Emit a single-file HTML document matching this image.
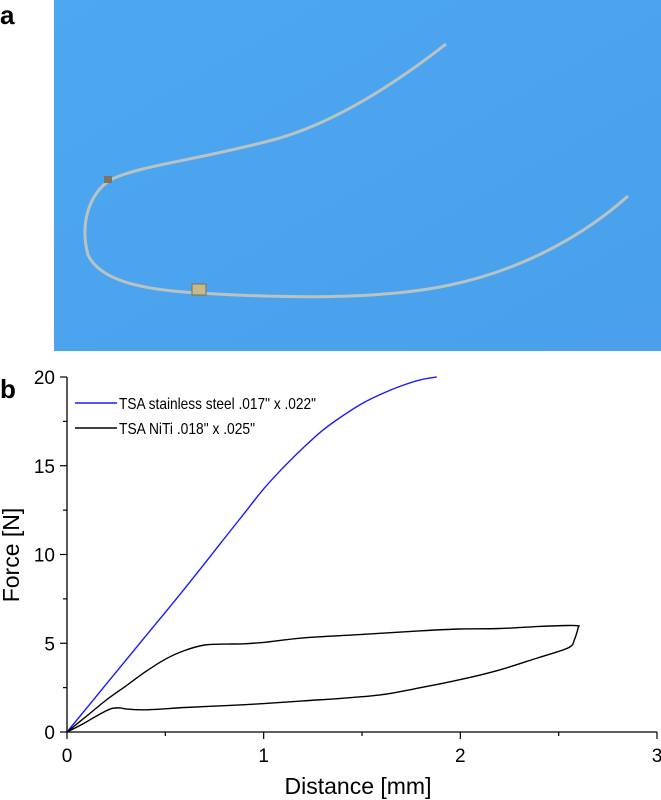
<!DOCTYPE html>
<html><head><meta charset="utf-8"><style>
html,body{margin:0;padding:0;background:#fff;width:661px;height:800px;overflow:hidden}
svg{display:block;font-family:"Liberation Sans",Arial,sans-serif}
</style></head><body>
<svg width="661" height="800" viewBox="0 0 661 800">
<defs>
<linearGradient id="bg" x1="0" y1="0" x2="1" y2="1"><stop offset="0" stop-color="#4da7f1"/><stop offset="1" stop-color="#4aa0ea"/></linearGradient>
</defs>
<text x="0" y="24" font-size="26" font-weight="bold">a</text>
<g>
<rect x="54" y="0" width="607" height="351" fill="url(#bg)"/>
<path d="M446,44 C400,80 340,120 280,138 C200,160 140,165 110,180 C88,195 80,225 88,255 C100,280 140,290 200,293 C280,298 380,300 450,285 C530,268 590,230 628,196" fill="none" stroke="#b9c3c4" stroke-width="3"/>
<rect x="104" y="176" width="8" height="7" fill="#7d7560"/>
<rect x="192" y="284" width="14" height="11" fill="#c9b98a" stroke="#7d7050" stroke-width="1"/>
</g>
<text x="0" y="398" font-size="26" font-weight="bold">b</text>
<g id="chart"></g>
</svg>
<script>
const xTicks=[0,1,2,3];
const yTicks=[0,5,10,15,20];
const steelX=[0,0.2,0.4,0.6,0.8,0.9,1.0,1.1,1.2,1.3,1.4,1.5,1.6,1.7,1.8,1.88];
const steelY=[0,2.7,5.4,8.1,10.9,12.3,13.7,14.9,16.0,17.0,17.8,18.5,19.05,19.5,19.85,20.0];
const nitiX=[0,0.1,0.2,0.3,0.4,0.5,0.6,0.7,0.8,0.9,1.0,1.2,1.5,1.8,2.0,2.2,2.4,2.55,2.6,2.6,2.58,2.55,2.4,2.2,2.0,1.8,1.6,1.4,1.2,1.0,0.8,0.6,0.4,0.3,0.27,0.22,0.15,0.08,0];
const nitiY=[0,0.9,1.8,2.6,3.4,4.1,4.6,4.9,4.95,4.97,5.05,5.3,5.5,5.7,5.8,5.83,5.95,6.0,5.98,5.9,5.2,4.75,4.2,3.5,2.95,2.5,2.1,1.9,1.75,1.6,1.48,1.38,1.25,1.3,1.36,1.3,0.9,0.45,0];
const NS="http://www.w3.org/2000/svg";
const g=document.getElementById('chart');
const X0=67,X1=657,Y0=732,Y1=377;
const sx=v=>X0+(v/3)*(X1-X0);
const sy=v=>Y0-(v/20)*(Y0-Y1);
function mk(t,a,parent){const e=document.createElementNS(NS,t);for(const k in a)e.setAttribute(k,a[k]);(parent||g).appendChild(e);return e;}
let e;
e=mk('line',{x1:X0,y1:Y0,x2:X1,y2:Y0,stroke:'#000','stroke-width':1.3});


e=mk('line',{x1:X0,y1:Y0,x2:X0,y2:Y1,stroke:'#000','stroke-width':1.3});


for(let v=0;v<=3;v+=0.5){
 const major=Number.isInteger(v);
 e=mk('line',{x1:sx(v),y1:Y0,x2:sx(v),y2:Y0+(major?7:4),stroke:'#000','stroke-width':1.2});
 
 
}
xTicks.forEach(v=>{
 e=mk('text',{x:sx(v),y:Y0+30,'font-size':19,'text-anchor':'middle'});e.textContent=v;
 
 
});
for(let v=0;v<=20;v+=2.5){
 const major=v%5===0;
 e=mk('line',{x1:X0,y1:sy(v),x2:X0-(major?7:4),y2:sy(v),stroke:'#000','stroke-width':1.2});
 
 
}
yTicks.forEach(v=>{
 e=mk('text',{x:X0-12,y:sy(v)+7,'font-size':19,'text-anchor':'end'});e.textContent=v;
 
 
});
e=mk('text',{x:358,y:794,'font-size':23,'text-anchor':'middle'});e.textContent='Distance [mm]';


e=mk('text',{x:0,y:0,'font-size':23,'text-anchor':'middle',transform:'translate(19,555) rotate(-90)'});e.textContent='Force [N]';


function line(xs,ys,color,name){
 const P=xs.map((x,i)=>[sx(x),sy(ys[i])]);
 let d='M'+P[0][0].toFixed(1)+','+P[0][1].toFixed(1);
 for(let i=0;i<P.length-1;i++){
  const p0=P[Math.max(i-1,0)],p1=P[i],p2=P[i+1],p3=P[Math.min(i+2,P.length-1)];
  const c1=[p1[0]+(p2[0]-p0[0])/6,p1[1]+(p2[1]-p0[1])/6];
  const c2=[p2[0]-(p3[0]-p1[0])/6,p2[1]-(p3[1]-p1[1])/6];
  d+=' C'+c1.map(v=>v.toFixed(1)).join(',')+' '+c2.map(v=>v.toFixed(1)).join(',')+' '+p2.map(v=>v.toFixed(1)).join(',');
 }
 const p=mk('path',{d:d,fill:'none',stroke:color,'stroke-width':1.4,'stroke-linejoin':'round'});
 
 
}
line(steelX,steelY,'#1a1aff','steel-series');
line(nitiX,nitiY,'#000','niti-series');
e=mk('line',{x1:75,y1:403,x2:117,y2:403,stroke:'#1a1aff','stroke-width':1.4});


e=mk('text',{x:119,y:409,'font-size':16,textLength:197,lengthAdjust:'spacingAndGlyphs'});e.textContent='TSA stainless steel .017" x .022"';


e=mk('line',{x1:75,y1:428,x2:117,y2:428,stroke:'#000','stroke-width':1.4});


e=mk('text',{x:119,y:434,'font-size':16,textLength:136,lengthAdjust:'spacingAndGlyphs'});e.textContent='TSA NiTi .018" x .025"';


</script>
</body></html>
